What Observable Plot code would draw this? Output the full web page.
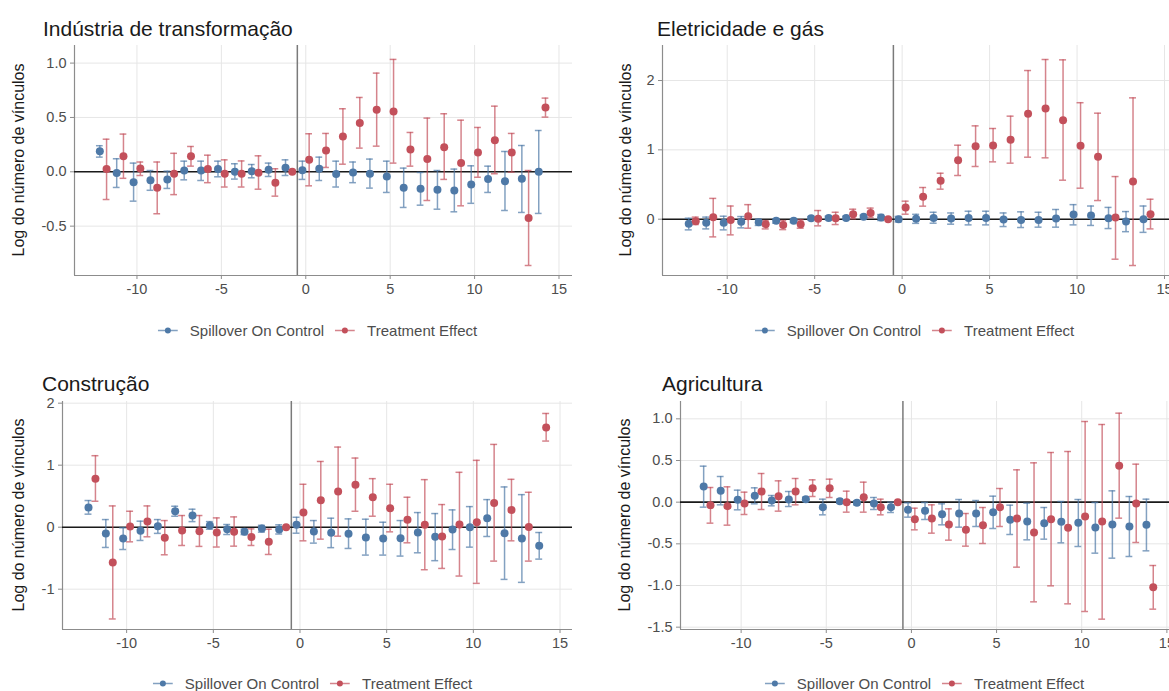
<!DOCTYPE html>
<html><head><meta charset="utf-8">
<script src="https://cdn.jsdelivr.net/npm/d3@7"></script>
<script src="https://cdn.jsdelivr.net/npm/@observablehq/plot@0.6"></script>
<style>
html,body{margin:0;padding:0;background:#fff;}
body{width:1169px;height:691px;overflow:hidden;position:relative;font-family:"Liberation Sans",Arial,sans-serif;}
.title{position:absolute;font-size:21px;line-height:1;color:#1a1a1a;white-space:nowrap;}
.ylab{position:absolute;font-size:16px;line-height:1;color:#1a1a1a;white-space:nowrap;transform:translate(-50%,-50%) rotate(-90deg);}
.legend{position:absolute;display:flex;align-items:center;font-size:15px;line-height:1;color:#4d4d4d;white-space:nowrap;transform:translate(-50%,-50%);}
.legend svg{margin-right:12px;}
.legend span{margin-right:11px;}
</style>
</head><body>
<script>
const periods = [-12,-11,-10,-9,-8,-7,-6,-5,-4,-3,-2,-1,0,1,2,3,4,5,6,7,8,9,10,11,12,13,14];
const seriesNames = ["Spillover On Control", "Treatment Effect"];
const seriesColors = ["#4e79a7", "#c3505b"];
const panelTitles = ["Indústria de transformação", "Eletricidade e gás", "Construção", "Agricultura"];
const yLabel = "Log do número de vínculos";
const xTicks = [-10, -5, 0, 5, 10, 15];

// Indústria de transformação
const ind_sp_est = [0.19,-0.012,-0.095,-0.077,-0.07,0.012,0.012,0.025,0,0.006,0.02,0.037,0.015,0.028,-0.02,-0.006,-0.018,-0.043,-0.147,-0.156,-0.166,-0.172,-0.117,-0.067,-0.086,-0.064,0];
const ind_sp_lo  = [0.135,-0.144,-0.27,-0.17,-0.153,-0.074,-0.08,-0.046,-0.067,-0.055,-0.043,-0.034,-0.07,-0.08,-0.14,-0.1,-0.15,-0.19,-0.328,-0.307,-0.344,-0.368,-0.29,-0.19,-0.356,-0.374,-0.383];
const ind_sp_hi  = [0.24,0.12,0.08,0.012,0.006,0.098,0.098,0.098,0.074,0.067,0.08,0.11,0.098,0.135,0.098,0.09,0.117,0.098,0.034,-0.006,0.012,0.025,0.055,0.052,0.187,0.242,0.38];
const ind_tr_est = [0.025,0.144,0.03,-0.147,-0.018,0.144,0.025,-0.018,-0.018,-0.009,-0.1,0,0.11,0.196,0.325,0.45,0.57,0.555,0.206,0.117,0.227,0.08,0.178,0.29,0.178,-0.426,0.592];
const ind_tr_lo  = [-0.255,-0.06,-0.034,-0.386,-0.21,0.052,-0.1,-0.14,-0.14,-0.16,-0.224,null,-0.129,0.04,0.07,0.218,0.236,0.08,0.052,-0.264,-0.07,-0.313,-0.05,-0.018,-0.003,-0.862,0.503];
const ind_tr_hi  = [0.3,0.347,0.09,0.09,0.17,0.233,0.153,0.11,0.1,0.147,0.028,null,0.35,0.353,0.58,0.684,0.908,1.034,0.362,0.494,0.534,0.475,0.408,0.604,0.353,0.012,0.678];

// Eletricidade e gás
const ele_sp_est = [-0.067,-0.053,-0.053,-0.038,-0.043,-0.024,-0.024,0.014,0.019,0.019,0.034,0.025,0,0.005,0.019,0.01,0.019,0.019,-0.005,-0.01,-0.01,0.01,0.067,0.053,0.014,-0.034,0];
const ele_sp_lo  = [-0.154,-0.14,-0.154,-0.125,-0.09,-0.058,-0.048,-0.01,-0.005,-0.005,0.01,-0.019,-0.04,-0.06,-0.058,-0.072,-0.082,-0.082,-0.106,-0.12,-0.115,-0.115,-0.082,-0.09,-0.135,-0.18,-0.19];
const ele_sp_hi  = [0.014,0.03,0.043,0.038,0,0.005,0,0.038,0.043,0.043,0.058,0.067,0.04,0.07,0.1,0.09,0.115,0.115,0.09,0.106,0.1,0.14,0.21,0.19,0.17,0.11,0.19];
const ele_tr_est = [-0.03,0.029,-0.01,0.043,-0.072,-0.082,-0.072,0.005,0.014,0.072,0.091,0,0.168,0.322,0.553,0.851,1.053,1.063,1.144,1.519,1.596,1.428,1.058,0.899,0.024,0.543,0.072];
const ele_tr_lo  = [-0.077,-0.255,-0.226,-0.13,-0.14,-0.15,-0.13,-0.096,-0.077,0.005,0.024,null,0.072,0.188,0.433,0.63,0.76,0.827,0.808,0.894,0.885,0.5625,0.447,0.269,-0.577,-0.668,-0.14];
const ele_tr_hi  = [0.03,0.3,0.19,0.21,-0.02,-0.02,-0.01,0.125,0.1,0.144,0.16,null,0.26,0.457,0.663,1.067,1.346,1.308,1.486,2.144,2.303,2.298,1.68,1.529,0.615,1.75,0.288];

// Construção
const con_sp_est = [0.316,-0.1,-0.182,-0.059,0.016,0.257,0.188,0.027,-0.032,-0.075,-0.021,-0.038,0.038,-0.07,-0.09,-0.107,-0.166,-0.182,-0.177,-0.086,-0.155,-0.038,0,0.145,-0.097,-0.182,-0.3];
const con_sp_lo  = [0.21,-0.327,-0.36,-0.214,-0.1,0.177,0.09,-0.032,-0.118,-0.12,-0.08,-0.11,-0.097,-0.257,-0.33,-0.343,-0.45,-0.45,-0.466,-0.413,-0.54,-0.36,-0.322,-0.15,-0.842,-0.89,-0.515];
const con_sp_hi  = [0.43,0.123,-0.01,0.097,0.123,0.338,0.29,0.09,0.043,-0.03,0.03,0.038,0.16,0.107,0.145,0.134,0.129,0.08,0.107,0.236,0.22,0.279,0.332,0.445,0.649,0.525,-0.086];
const con_tr_est = [0.783,-0.568,0.01,0.09,-0.172,-0.054,-0.064,-0.086,-0.075,-0.16,-0.236,0,0.236,0.434,0.574,0.686,0.483,0.306,0.118,0.038,-0.15,0.043,0.08,0.39,0.279,0.005,1.609];
const con_tr_lo  = [0.418,-1.48,-0.236,-0.155,-0.445,-0.295,-0.31,-0.32,-0.306,-0.295,-0.44,null,-0.22,-0.193,-0.145,0.257,0.177,-0.075,-0.252,-0.686,-0.665,-0.788,-0.906,-0.547,-0.22,-0.547,1.389];
const con_tr_hi  = [1.153,0.343,0.257,0.343,0.107,0.188,0.188,0.15,0.166,-0.027,-0.032,null,0.692,1.06,1.292,1.115,0.783,0.692,0.483,0.767,0.365,0.885,1.078,1.335,0.772,0.563,1.834];

// Agricultura
const agr_sp_est = [0.188,0.136,0.028,0.076,0.02,0.032,0.036,-0.06,0.012,-0.008,-0.016,-0.06,-0.092,-0.104,-0.144,-0.136,-0.136,-0.12,-0.212,-0.232,-0.252,-0.236,-0.248,-0.304,-0.268,-0.292,-0.272];
const agr_sp_lo  = [-0.06,-0.032,-0.092,-0.02,-0.044,-0.052,0.008,-0.152,-0.012,-0.032,-0.088,-0.124,-0.18,-0.208,-0.272,-0.3,-0.292,-0.316,-0.388,-0.452,-0.444,-0.488,-0.532,-0.612,-0.672,-0.652,-0.584];
const agr_sp_hi  = [0.432,0.308,0.144,0.172,0.08,0.128,0.06,0.036,0.036,0.016,0.056,0,-0.008,-0.004,-0.02,0.032,0.02,0.072,-0.036,-0.012,-0.064,0.008,0.032,-0.004,0.136,0.068,0.036];
const agr_tr_est = [-0.036,-0.048,-0.016,0.128,0.072,0.128,0.168,0.168,0,0.06,-0.06,0,-0.204,-0.196,-0.268,-0.332,-0.276,-0.06,-0.196,-0.364,-0.204,-0.308,-0.172,-0.232,0.436,-0.016,-1.02];
const agr_tr_lo  = [-0.252,-0.276,-0.148,-0.088,-0.108,-0.032,0.068,0.056,-0.12,-0.12,-0.152,null,-0.332,-0.372,-0.456,-0.528,-0.496,-0.292,-0.78,-1.196,-1.004,-1.22,-1.312,-1.404,-0.192,-0.484,-1.284];
const agr_tr_hi  = [0.176,0.184,0.12,0.344,0.256,0.284,0.268,0.276,0.132,0.24,0.036,null,-0.072,-0.032,-0.08,-0.136,-0.064,0.164,0.388,0.472,0.596,0.608,0.968,0.932,1.068,0.456,-0.76];

const dodge = 0.2, capHalf = 0.2;

function buildRows(sp, tr) {
  const rows = [];
  [sp, tr].forEach((s, k) => {
    periods.forEach((p, i) => {
      rows.push({period: p, xp: p + (k === 0 ? -dodge : dodge), est: s[0][i], lo: s[1][i], hi: s[2][i], color: seriesColors[k]});
    });
  });
  return rows;
}

const panels = [
  {title: panelTitles[0], sp:[ind_sp_est,ind_sp_lo,ind_sp_hi], tr:[ind_tr_est,ind_tr_lo,ind_tr_hi],
   left:0, top:35, width:590, ml:74, mr:18, mt:10, ph:230, mb:35,
   xDomain:[-13.7,15.8], yDomain:[-0.954,1.162], yTicks:[-0.5,0,0.5,1], yFmt:d=>d.toFixed(1),
   titleX:43, titleY:18, ylabX:19, legX:323, legY:330},
  {title: panelTitles[1], sp:[ele_sp_est,ele_sp_lo,ele_sp_hi], tr:[ele_tr_est,ele_tr_lo,ele_tr_hi],
   left:600, top:35, width:590, ml:62, mr:12, mt:10, ph:230, mb:35,
   xDomain:[-13.7,15.8], yDomain:[-0.812,2.505], yTicks:[0,1,2], yFmt:d=>String(d),
   titleX:657, titleY:18, ylabX:626, legX:920, legY:330},
  {title: panelTitles[2], sp:[con_sp_est,con_sp_lo,con_sp_hi], tr:[con_tr_est,con_tr_lo,con_tr_hi],
   left:0, top:391, width:590, ml:62, mr:18, mt:10, ph:228, mb:35,
   xDomain:[-13.7,15.72], yDomain:[-1.65,2.027], yTicks:[-1,0,1,2], yFmt:d=>String(d),
   titleX:42, titleY:373, ylabX:19, legX:318, legY:683},
  {title: panelTitles[3], sp:[agr_sp_est,agr_sp_lo,agr_sp_hi], tr:[agr_tr_est,agr_tr_lo,agr_tr_hi],
   left:600, top:391, width:590, ml:80, mr:10, mt:10, ph:228, mb:35,
   xDomain:[-13.56,15.8], yDomain:[-1.528,1.208], yTicks:[-1.5,-1,-0.5,0,0.5,1], yFmt:d=>d.toFixed(1),
   titleX:662, titleY:373, ylabX:625, legX:930, legY:683}
];

function addDiv(cls, text, style) {
  const d = document.createElement("div");
  d.className = cls;
  if (text != null) d.textContent = text;
  Object.assign(d.style, style);
  document.body.appendChild(d);
  return d;
}

function legendSymbol(color) {
  const ns = "http://www.w3.org/2000/svg";
  const s = document.createElementNS(ns, "svg");
  s.setAttribute("width", 20); s.setAttribute("height", 10);
  const l = document.createElementNS(ns, "line");
  l.setAttribute("x1", 0); l.setAttribute("x2", 20); l.setAttribute("y1", 5); l.setAttribute("y2", 5);
  l.setAttribute("stroke", color); l.setAttribute("stroke-opacity", 0.7); l.setAttribute("stroke-width", 1.5);
  const c = document.createElementNS(ns, "circle");
  c.setAttribute("cx", 10); c.setAttribute("cy", 5); c.setAttribute("r", 3); c.setAttribute("fill", color);
  s.appendChild(l); s.appendChild(c);
  return s;
}

panels.forEach(P => {
  const rows = buildRows(P.sp, P.tr);
  const bars = rows.filter(d => d.lo != null && d.hi != null);
  const height = P.mt + P.ph + P.mb;
  const chart = Plot.plot({
    width: P.width, height,
    marginLeft: P.ml, marginRight: P.mr, marginTop: P.mt, marginBottom: P.mb,
    style: {fontFamily: '"Liberation Sans", Arial, sans-serif', fontSize: "14.5px", color: "#4d4d4d", background: "transparent", overflow: "visible"},
    x: {domain: P.xDomain, label: null},
    y: {domain: P.yDomain, label: null},
    marks: [
      Plot.gridX(xTicks, {stroke: "#e6e6e6", strokeOpacity: 1, strokeWidth: 1}),
      Plot.gridY(P.yTicks, {stroke: "#e6e6e6", strokeOpacity: 1, strokeWidth: 1}),
      Plot.ruleX([P.xDomain[0]], {stroke: "#8c8c8c", strokeWidth: 1.2}),
      Plot.ruleY([P.yDomain[0]], {stroke: "#8c8c8c", strokeWidth: 1.2}),
      Plot.ruleX([-0.5], {stroke: "#7a7a7a", strokeWidth: 1.5}),
      Plot.ruleY([0], {stroke: "#1a1a1a", strokeWidth: 1.6}),
      Plot.ruleX(bars, {x: "xp", y1: "lo", y2: "hi", stroke: "color", strokeOpacity: 0.7, strokeWidth: 1.5}),
      Plot.ruleY(bars, {y: "lo", x1: d => d.xp - capHalf, x2: d => d.xp + capHalf, stroke: "color", strokeOpacity: 0.7, strokeWidth: 1.5}),
      Plot.ruleY(bars, {y: "hi", x1: d => d.xp - capHalf, x2: d => d.xp + capHalf, stroke: "color", strokeOpacity: 0.7, strokeWidth: 1.5}),
      Plot.dot(rows, {x: "xp", y: "est", fill: "color", r: 4, stroke: "none"}),
      Plot.axisX({ticks: xTicks, tickFormat: d => String(d), tickSize: 4, tickPadding: 4, stroke: "#8c8c8c", label: null}),
      Plot.axisY({ticks: P.yTicks, tickFormat: P.yFmt, tickSize: 4, tickPadding: 4, stroke: "#8c8c8c", label: null})
    ]
  });
  chart.style.position = "absolute";
  chart.style.left = P.left + "px";
  chart.style.top = P.top + "px";
  document.body.appendChild(chart);

  addDiv("title", P.title, {left: P.titleX + "px", top: P.titleY + "px"});
  addDiv("ylab", yLabel, {left: P.ylabX + "px", top: (P.top + P.mt + P.ph / 2) + "px"});
  const leg = addDiv("legend", null, {left: P.legX + "px", top: P.legY + "px"});
  seriesNames.forEach((n, k) => {
    leg.appendChild(legendSymbol(seriesColors[k]));
    const sp = document.createElement("span");
    sp.textContent = n;
    leg.appendChild(sp);
  });
});
</script>
</body></html>
